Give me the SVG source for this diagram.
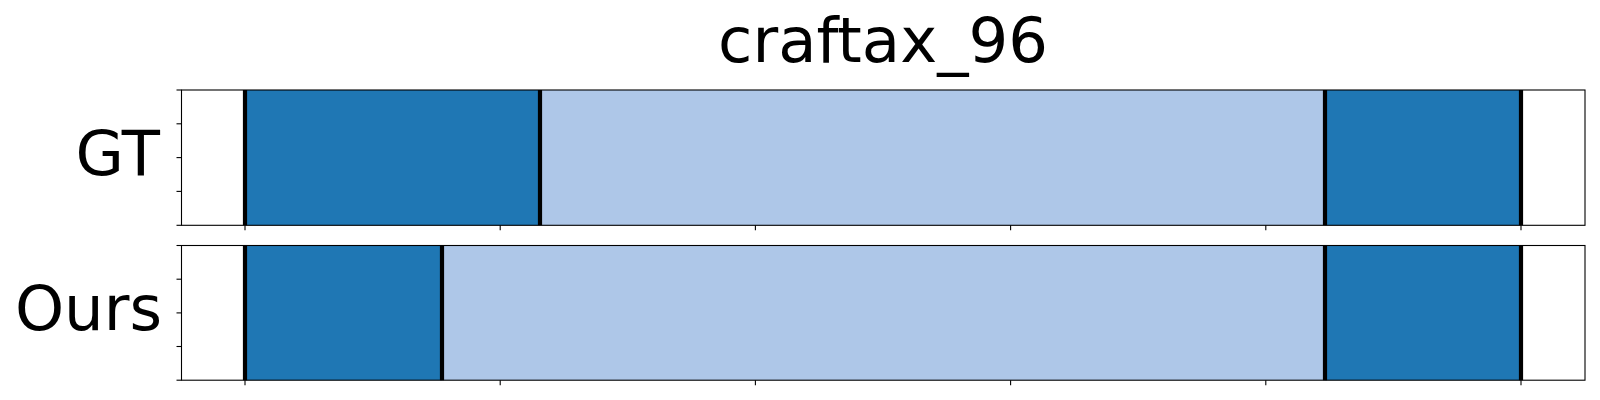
<svg xmlns="http://www.w3.org/2000/svg" width="1600" height="400" viewBox="0 0 1600 400">
<style>
.bg{fill:#ffffff}
.dark{fill:#1f77b4}
.light{fill:#aec7e8}
.bound{stroke:#000000;stroke-width:4.2}
.spine{fill:none;stroke:#000000;stroke-width:1.1}
.tick{stroke:#000000;stroke-width:1.1}
.lbl{font-family:'DejaVu Sans','Liberation Sans',sans-serif;font-size:62.5px;fill:#000000}
</style>
<rect x="0" y="0" width="1600" height="400" class="bg"/>
<text class="lbl" x="883" y="62" text-anchor="middle">craftax_96</text>
<g id="panel-gt">
  <rect x="181.5" y="90" width="1403.5" height="135.3" class="bg"/>
  <rect x="245" y="90" width="295" height="135.3" class="dark"/>
  <rect x="540" y="90" width="785" height="135.3" class="light"/>
  <rect x="1325" y="90" width="196" height="135.3" class="dark"/>
  <g id="gt-bounds">
    <line x1="245" y1="90" x2="245" y2="225.3" class="bound"/>
    <line x1="540" y1="90" x2="540" y2="225.3" class="bound"/>
    <line x1="1325" y1="90" x2="1325" y2="225.3" class="bound"/>
    <line x1="1521" y1="90" x2="1521" y2="225.3" class="bound"/>
  </g>
  <rect x="181.5" y="90" width="1403.5" height="135.3" class="spine"/>
  <g id="gt-yticks">
    <line x1="176.5" y1="90" x2="181.5" y2="90" class="tick"/>
    <line x1="176.5" y1="123.8" x2="181.5" y2="123.8" class="tick"/>
    <line x1="176.5" y1="157.6" x2="181.5" y2="157.6" class="tick"/>
    <line x1="176.5" y1="191.4" x2="181.5" y2="191.4" class="tick"/>
    <line x1="176.5" y1="225.3" x2="181.5" y2="225.3" class="tick"/>
  </g>
  <g id="gt-xticks">
    <line x1="245" y1="225.3" x2="245" y2="230.3" class="tick"/>
    <line x1="500.2" y1="225.3" x2="500.2" y2="230.3" class="tick"/>
    <line x1="755.4" y1="225.3" x2="755.4" y2="230.3" class="tick"/>
    <line x1="1010.6" y1="225.3" x2="1010.6" y2="230.3" class="tick"/>
    <line x1="1265.8" y1="225.3" x2="1265.8" y2="230.3" class="tick"/>
    <line x1="1521" y1="225.3" x2="1521" y2="230.3" class="tick"/>
  </g>
  <text class="lbl" x="160" y="175" text-anchor="end">GT</text>
</g>
<g id="panel-ours">
  <rect x="181.5" y="245.5" width="1403.5" height="134.7" class="bg"/>
  <rect x="245" y="245.5" width="197" height="134.7" class="dark"/>
  <rect x="442" y="245.5" width="883" height="134.7" class="light"/>
  <rect x="1325" y="245.5" width="196" height="134.7" class="dark"/>
  <g id="ours-bounds">
    <line x1="245" y1="245.5" x2="245" y2="380.2" class="bound"/>
    <line x1="442" y1="245.5" x2="442" y2="380.2" class="bound"/>
    <line x1="1325" y1="245.5" x2="1325" y2="380.2" class="bound"/>
    <line x1="1521" y1="245.5" x2="1521" y2="380.2" class="bound"/>
  </g>
  <rect x="181.5" y="245.5" width="1403.5" height="134.7" class="spine"/>
  <g id="ours-yticks">
    <line x1="176.5" y1="245.5" x2="181.5" y2="245.5" class="tick"/>
    <line x1="176.5" y1="279.2" x2="181.5" y2="279.2" class="tick"/>
    <line x1="176.5" y1="312.9" x2="181.5" y2="312.9" class="tick"/>
    <line x1="176.5" y1="346.5" x2="181.5" y2="346.5" class="tick"/>
    <line x1="176.5" y1="380.2" x2="181.5" y2="380.2" class="tick"/>
  </g>
  <g id="ours-xticks">
    <line x1="245" y1="380.2" x2="245" y2="385.2" class="tick"/>
    <line x1="500.2" y1="380.2" x2="500.2" y2="385.2" class="tick"/>
    <line x1="755.4" y1="380.2" x2="755.4" y2="385.2" class="tick"/>
    <line x1="1010.6" y1="380.2" x2="1010.6" y2="385.2" class="tick"/>
    <line x1="1265.8" y1="380.2" x2="1265.8" y2="385.2" class="tick"/>
    <line x1="1521" y1="380.2" x2="1521" y2="385.2" class="tick"/>
  </g>
  <text class="lbl" x="162" y="330" text-anchor="end">Ours</text>
</g>
</svg>
